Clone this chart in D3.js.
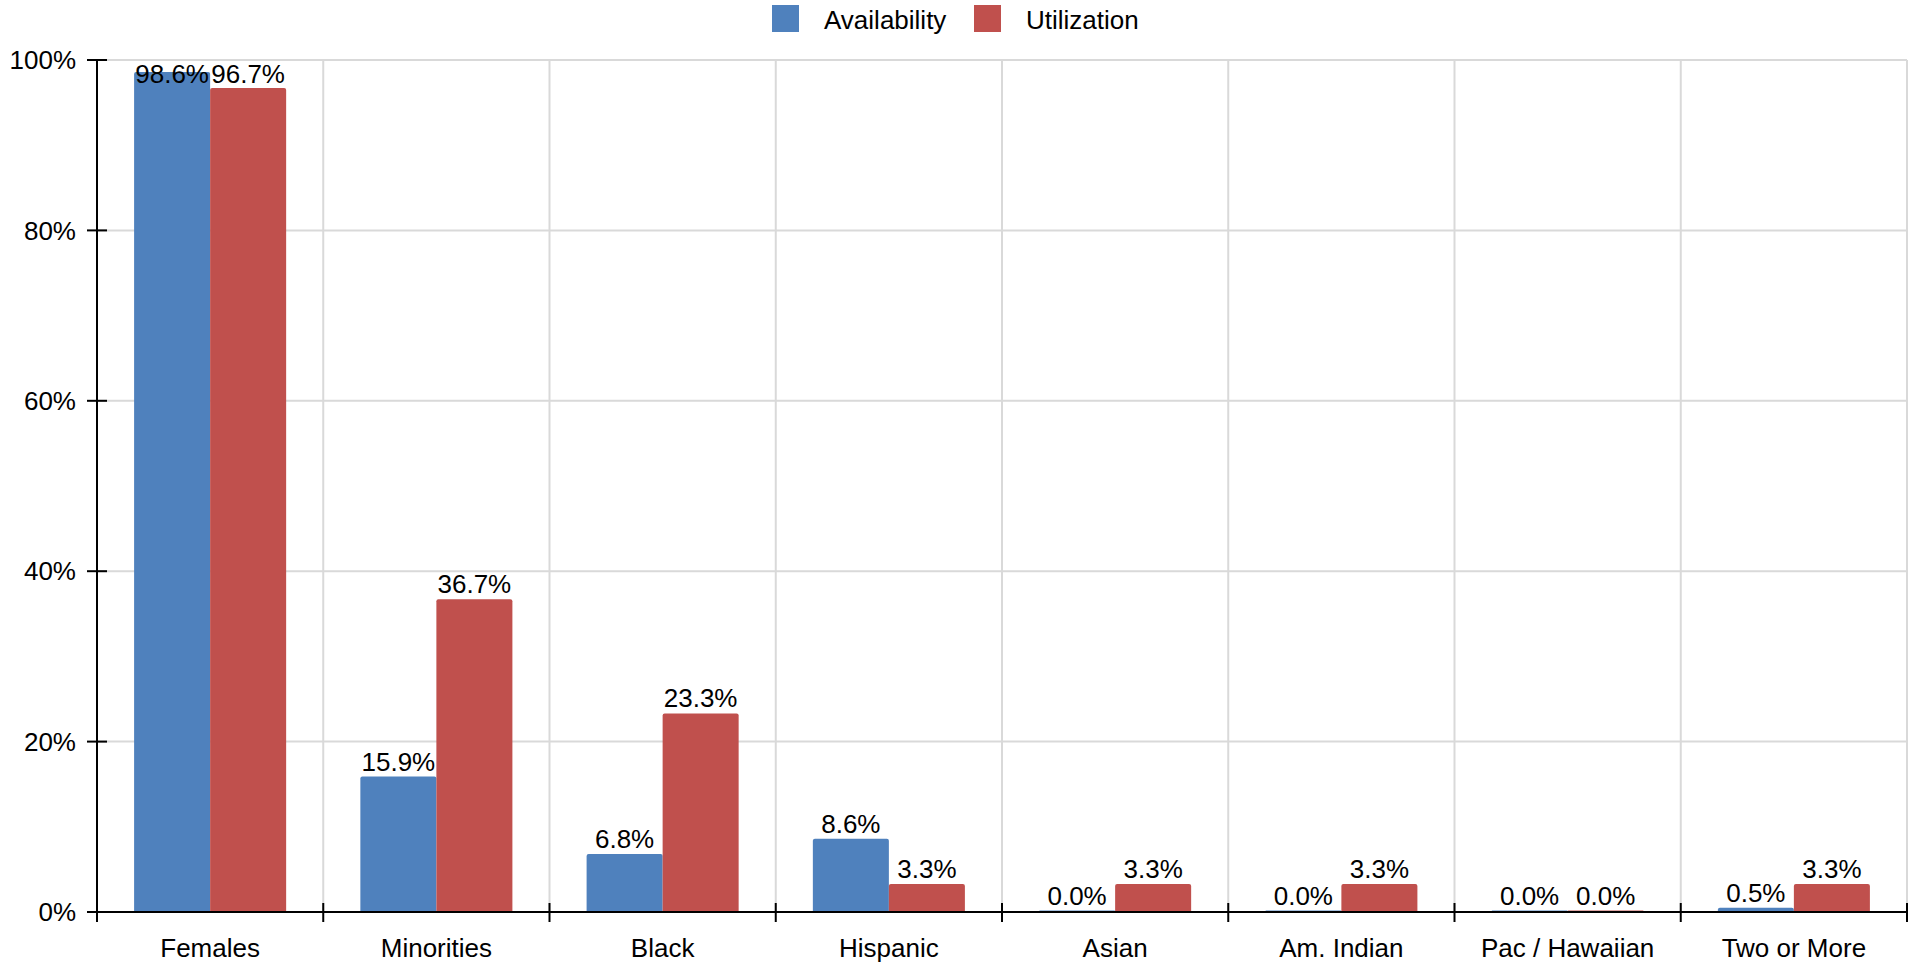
<!DOCTYPE html>
<html>
<head>
<meta charset="utf-8">
<script src="https://cdn.jsdelivr.net/npm/d3@7"></script>
<style>
  html, body { margin: 0; padding: 0; background: #fff; }
  svg { display: block; font-family: "Liberation Sans", Arial, sans-serif; }
</style>
</head>
<body>
<svg id="chart" width="1914" height="965"></svg>
<script>
const categories = ["Females", "Minorities", "Black", "Hispanic", "Asian", "Am. Indian", "Pac / Hawaiian", "Two or More"];
const seriesNames = ["Availability", "Utilization"];
const availability = [98.6, 15.9, 6.8, 8.6, 0.0, 0.0, 0.0, 0.5];
const utilization = [96.7, 36.7, 23.3, 3.3, 3.3, 3.3, 0.0, 3.3];
const colors = ["#4F81BD", "#C0504D"];
const yTicks = [0, 20, 40, 60, 80, 100];

(function () {
const seriesValues = [availability, utilization];
const svg = d3.select("#chart");
const mLeft = 97, mRight = 1907, mTop = 60, mBottom = 912;
const fs = 26;

const x0 = d3.scaleBand().domain(categories).range([mLeft, mRight]).padding(0);
const bw = x0.bandwidth();
const x1 = d3.scaleBand().domain(seriesNames).range([bw * 0.164, bw * 0.836]).padding(0);
const y = d3.scaleLinear().domain([0, 100]).range([mBottom, mTop]);

// horizontal gridlines
svg.append("g").selectAll("line").data(yTicks.filter(t => t > 0)).join("line")
  .attr("x1", mLeft).attr("x2", mRight)
  .attr("y1", d => y(d)).attr("y2", d => y(d))
  .attr("stroke", "#d9d9d9").attr("stroke-width", 2);
// vertical gridlines at band boundaries
const bounds = categories.map(c => x0(c)).concat([mRight]);
svg.append("g").selectAll("line").data(bounds.slice(1)).join("line")
  .attr("x1", d => d).attr("x2", d => d)
  .attr("y1", mTop).attr("y2", mBottom)
  .attr("stroke", "#d9d9d9").attr("stroke-width", 2);

// bars
const groups = svg.append("g").selectAll("g").data(categories).join("g")
  .attr("transform", c => `translate(${x0(c)},0)`);
groups.each(function(c, i) {
  const g = d3.select(this);
  seriesNames.forEach((s, si) => {
    const v = seriesValues[si][i];
    const yy = y(v);
    const h = Math.max(mBottom - yy, 1.5);
    g.append("path")
      .attr("d", () => {
        const x = x1(s), w = x1.bandwidth(), r = Math.min(2, h / 2);
        const t = mBottom - h;
        return `M${x},${mBottom}V${t + r}Q${x},${t} ${x + r},${t}H${x + w - r}Q${x + w},${t} ${x + w},${t + r}V${mBottom}Z`;
      })
      .attr("fill", colors[si]);
    const base = Math.min(yy - 6, mBottom - 1.5 - 6);
    g.append("text")
      .attr("x", x1(s) + x1.bandwidth() / 2)
      .attr("y", Math.max(base, mTop + 23))
      .attr("text-anchor", "middle")
      .attr("font-size", fs)
      .attr("fill", "#000")
      .text(v.toFixed(1) + "%");
  });
});

// y axis
const yAxis = svg.append("g");
yAxis.append("line").attr("x1", mLeft).attr("x2", mLeft).attr("y1", mTop).attr("y2", mBottom)
  .attr("stroke", "#000").attr("stroke-width", 2);
yAxis.selectAll("line.tick").data(yTicks).join("line").attr("class", "tick")
  .attr("x1", mLeft - 10).attr("x2", mLeft + 10)
  .attr("y1", d => y(d)).attr("y2", d => y(d))
  .attr("stroke", "#000").attr("stroke-width", 2);
yAxis.selectAll("text").data(yTicks).join("text")
  .attr("x", mLeft - 21).attr("y", d => y(d))
  .attr("dy", "0.35em")
  .attr("text-anchor", "end")
  .attr("font-size", fs)
  .attr("fill", "#000")
  .text(d => d + "%");

// x axis
const xAxis = svg.append("g");
xAxis.append("line").attr("x1", mLeft).attr("x2", mRight).attr("y1", mBottom).attr("y2", mBottom)
  .attr("stroke", "#000").attr("stroke-width", 2);
xAxis.selectAll("line.tick").data(bounds).join("line").attr("class", "tick")
  .attr("x1", d => d).attr("x2", d => d)
  .attr("y1", d => d === mLeft ? mBottom : mBottom - 9).attr("y2", mBottom + 10)
  .attr("stroke", "#000").attr("stroke-width", 2);
xAxis.selectAll("text").data(categories).join("text")
  .attr("x", c => x0(c) + bw / 2).attr("y", 957)
  .attr("text-anchor", "middle")
  .attr("font-size", fs)
  .attr("fill", "#000")
  .text(c => c);

// legend
const legendX = [772, 974];
const legend = svg.append("g").selectAll("g").data(seriesNames).join("g")
  .attr("transform", (d, i) => `translate(${legendX[i]},5)`);
legend.append("rect").attr("width", 27).attr("height", 27).attr("fill", (d, i) => colors[i]);
legend.append("text").attr("x", 52).attr("y", 24)
  .attr("font-size", fs).attr("fill", "#000").text(d => d);
})();
</script>
</body>
</html>
